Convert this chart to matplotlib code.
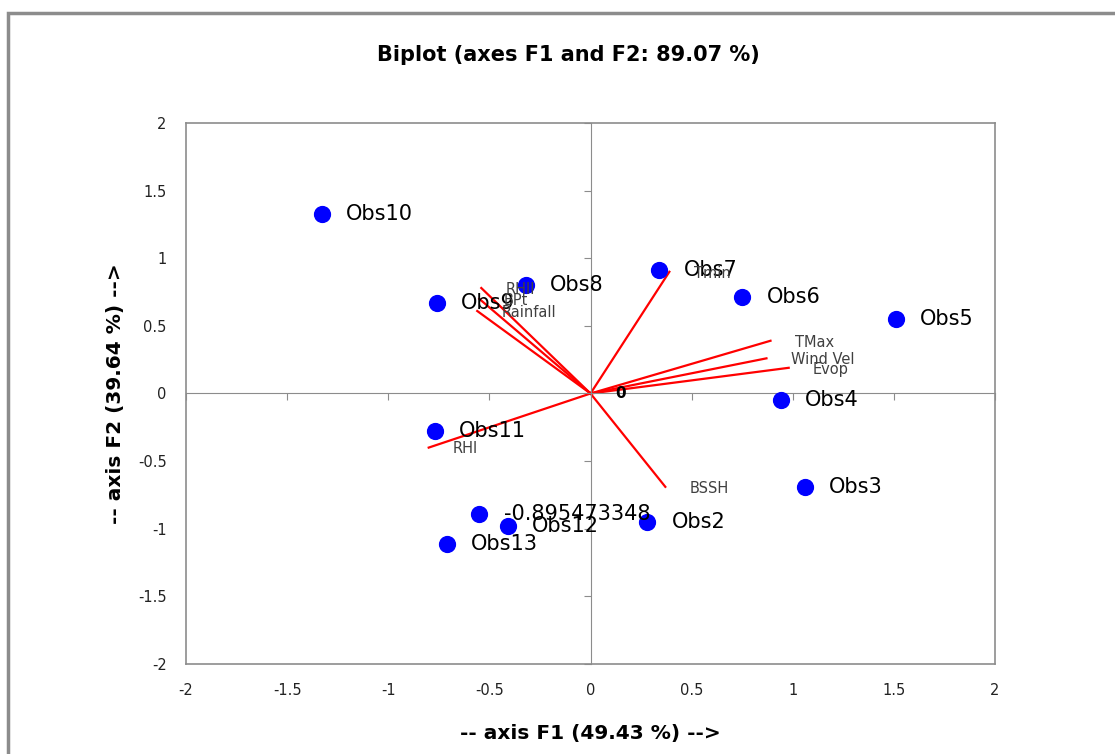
import matplotlib.pyplot as plt
from matplotlib.patches import Rectangle

# observations (scores on F1, F2)
obs_names = ['Obs10', 'Obs9', 'Obs8', 'Obs7', 'Obs6', 'Obs5', 'Obs4', 'Obs3',
             'Obs2', 'Obs11', '-0.895473348', 'Obs12', 'Obs13']
obs_x = [-1.33, -0.76, -0.32, 0.34, 0.75, 1.51, 0.94, 1.06, 0.28, -0.77, -0.55, -0.41, -0.71]
obs_y = [1.33, 0.67, 0.80, 0.91, 0.71, 0.55, -0.05, -0.69, -0.95, -0.28, -0.89, -0.98, -1.11]

# variables (loadings on F1, F2)
var_names = ['RHII', 'BPt', 'Rainfall', 'Tmin', 'TMax', 'Wind Vel', 'Evop', 'BSSH', 'RHI']
var_x = [-0.54, -0.55, -0.56, 0.39, 0.89, 0.87, 0.98, 0.37, -0.80]
var_y = [0.78, 0.70, 0.61, 0.90, 0.39, 0.26, 0.19, -0.69, -0.40]

ticks = [-2, -1.5, -1, -0.5, 0, 0.5, 1, 1.5, 2]
tick_labels = ['-2', '-1.5', '-1', '-0.5', '0', '0.5', '1', '1.5', '2']

fig = plt.figure(figsize=(11.15, 7.54), dpi=100)
pos = [186/1115, 1-664/754, (995-186)/1115, (664-123)/754]

# outer chart frame (Excel style)
fig.add_artist(Rectangle((8/1115, -0.1), 1.2, (754-13)/754 + 0.1,
                         transform=fig.transFigure, fill=False,
                         edgecolor='#8c8c8c', linewidth=2.5))

# frame axes carrying the tick labels
ax2 = fig.add_axes(pos)
ax2.set_xlim(-2, 2)
ax2.set_ylim(-2, 2)
ax2.set_xticks(ticks)
ax2.set_xticklabels(tick_labels)
ax2.set_yticks(ticks)
ax2.set_yticklabels(tick_labels)
ax2.tick_params(length=0, labelsize=10.5, colors='#222222', pad=14)
for s in ax2.spines.values():
    s.set_color('#8c8c8c')
    s.set_linewidth(1.2)

# data axes with axes crossing at zero
ax = fig.add_axes(pos)
ax.patch.set_alpha(0)
ax.set_xlim(-2, 2)
ax.set_ylim(-2, 2)
ax.spines['left'].set_position(('data', 0))
ax.spines['bottom'].set_position(('data', 0))
ax.spines['top'].set_visible(False)
ax.spines['right'].set_visible(False)
ax.spines['left'].set_color('#8c8c8c')
ax.spines['bottom'].set_color('#8c8c8c')
ax.set_xticks(ticks)
ax.set_yticks(ticks)
ax.tick_params(direction='out', length=5, color='#8c8c8c', labelleft=False, labelbottom=False)

for vx, vy in zip(var_x, var_y):
    ax.plot([0, vx], [0, vy], color='red', linewidth=1.6, zorder=2)

ax.scatter(obs_x, obs_y, s=130, color='#0000ff', zorder=3)
for name, ox, oy in zip(obs_names, obs_x, obs_y):
    ax.text(ox + 0.12, oy, name, fontsize=15, color='black', va='center', ha='left', zorder=4)

for name, vx, vy in zip(var_names, var_x, var_y):
    ax.text(vx + 0.12, vy - 0.01, name, fontsize=10.5, color='#404040',
            va='center', ha='left', zorder=5)

# label at origin
ax.text(0.12, 0, '0', fontsize=11, fontweight='bold', va='center', ha='left', zorder=5)

fig.text(568/1115, 1-55/754, 'Biplot (axes F1 and F2: 89.07 %)', fontsize=15,
         fontweight='bold', ha='center', va='center')
fig.text(590/1115, 1-733/754, '-- axis F1 (49.43 %) -->', fontsize=14.5,
         fontweight='bold', ha='center', va='center')
fig.text(115/1115, 1-394/754, '-- axis F2 (39.64 %) -->', fontsize=14.5,
         fontweight='bold', ha='center', va='center', rotation=90)

fig.savefig('out.png', dpi=100)
